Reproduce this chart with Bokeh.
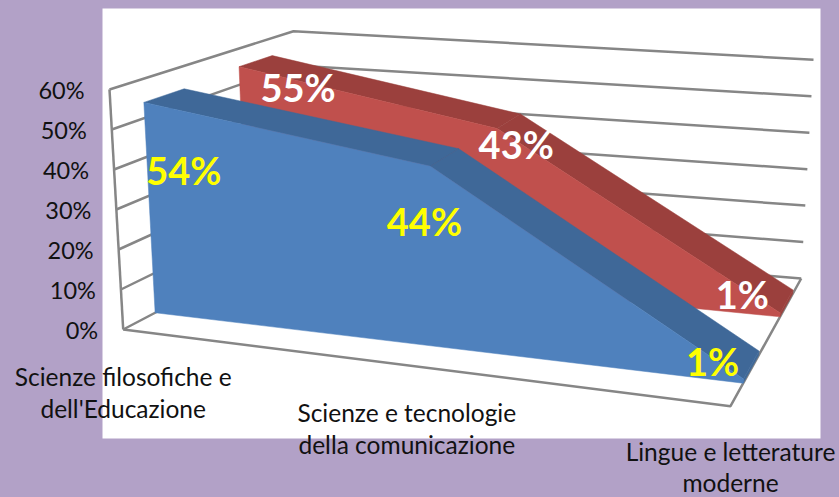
from bokeh.plotting import figure
from bokeh.models import Range1d
from bokeh.core.properties import value
from bokeh.embed import file_html
from bokeh.resources import INLINE

# ---- data ----
categories_line1 = ["Scienze filosofiche e", "Scienze e tecnologie", "Lingue e letterature"]
categories_line2 = ["dell'Educazione", "della comunicazione", "moderne"]
blue_values = [54, 44, 1]
red_values = [55, 43, 1]
blue_labels = ["54%", "44%", "1%"]
red_labels = ["55%", "43%", "1%"]
tick_values = [0, 10, 20, 30, 40, 50, 60]
tick_labels = ["0%", "10%", "20%", "30%", "40%", "50%", "60%"]

# ---- layout: page size, and the 3D box as seen on screen ----
W, H = 839, 497
BG = "#B2A1C7"
GRID = "#868686"
TEXT = "#111111"
FONT = "Lato"
VMAX = 60.0
cat_pos = [0.0, 0.467, 1.0]             # category position along the box width
blue_depth = (0.18, 0.40)               # front / back of each ribbon in the box depth
red_depth = (0.70, 0.881)
floor_corners = {"fl": (122.7, 329.0), "fr": (730.0, 405.7), "bl": (300.0, 236.0), "br": (800.7, 278.0)}
top_corners = {"fl": (109.0, 89.0), "fr": (747.0, 140.0), "bl": (293.0, 30.7), "br": (813.0, 59.3)}
# data label offsets from the front top point of the ribbon
blue_offsets = [(40, 68), (-6, 55), (-31, -18)]
red_offsets = [(59, 20), (19, 15), (-38, -19)]
# category label offsets below the floor's front edge
line1_offsets = [47, 47, 45]
line2_offsets = [79, 79, 76]


def lerp(a, b, t):
    return a + (b - a) * t


def project(c, d, v):
    """Trilinear box projection: c along width, d along depth, v in value units."""
    t = v / VMAX
    out = []
    for k in (0, 1):
        floor_f = lerp(floor_corners["fl"][k], floor_corners["fr"][k], c)
        floor_b = lerp(floor_corners["bl"][k], floor_corners["br"][k], c)
        top_f = lerp(top_corners["fl"][k], top_corners["fr"][k], c)
        top_b = lerp(top_corners["bl"][k], top_corners["br"][k], c)
        out.append(lerp(lerp(floor_f, floor_b, d), lerp(top_f, top_b, d), t))
    return tuple(out)


def poly(p, pts, color):
    p.patch([q[0] for q in pts], [q[1] for q in pts], fill_color=color, line_color=color, line_width=0.5)


def seg(p, pts):
    p.line([q[0] for q in pts], [q[1] for q in pts], line_color=GRID, line_width=2.5)


def ribbon(p, values, depth, front, top):
    df, db = depth
    n = len(values)
    for i in range(n - 1):
        poly(p, [project(cat_pos[i], df, values[i]), project(cat_pos[i + 1], df, values[i + 1]),
                 project(cat_pos[i + 1], db, values[i + 1]), project(cat_pos[i], db, values[i])], top)
    poly(p, [project(1, df, values[-1]), project(1, db, values[-1]), project(1, db, 0), project(1, df, 0)], top)
    poly(p, [project(c, df, v) for c, v in zip(cat_pos, values)] + [project(1, df, 0), project(0, df, 0)], front)


p = figure(width=W, height=H, output_backend="svg", toolbar_location=None,
           x_range=Range1d(0, W), y_range=Range1d(H, 0), min_border=0,
           background_fill_color=BG, border_fill_color=BG, outline_line_color=None)
p.axis.visible = False
p.grid.visible = False

# white chart panel
p.quad(left=[102], right=[820], top=[8], bottom=[438], fill_color="white", line_color=None)

# walls
for v in tick_values:
    seg(p, [project(0, 0, v), project(0, 1, v), project(1, 1, v)])
seg(p, [project(0, 0, 0), project(0, 0, VMAX)])
seg(p, [project(0, 0, 0), project(1, 0, 0), project(1, 1, 0)])

# series, back one first
ribbon(p, red_values, red_depth, "#C0504D", "#9B403D")
ribbon(p, blue_values, blue_depth, "#4F81BD", "#3F6898")

# value axis labels
tick_pts = [project(0, 0, v) for v in tick_values]
p.text([q[0] - 25 for q in tick_pts], [q[1] + 0.5 for q in tick_pts], text=tick_labels,
       text_font=value(FONT), text_font_size="23.5px", text_color=TEXT,
       text_align="right", text_baseline="middle")

# category labels
cat_pts = [project(c, 0, 0) for c in cat_pos]
p.text([q[0] for q in cat_pts], [q[1] + o for q, o in zip(cat_pts, line1_offsets)], text=categories_line1,
       text_font=value(FONT), text_font_size="24.5px", text_color=TEXT,
       text_align="center", text_baseline="middle")
p.text([q[0] for q in cat_pts], [q[1] + o for q, o in zip(cat_pts, line2_offsets)], text=categories_line2,
       text_font=value(FONT), text_font_size="24.5px", text_color=TEXT,
       text_align="center", text_baseline="middle")

# data labels
for vals, labs, depth, offs, col in ((red_values, red_labels, red_depth, red_offsets, "#FFFFFF"),
                                     (blue_values, blue_labels, blue_depth, blue_offsets, "#FFFF00")):
    pts = [project(c, depth[0], v) for c, v in zip(cat_pos, vals)]
    p.text([q[0] + o[0] for q, o in zip(pts, offs)], [q[1] + o[1] for q, o in zip(pts, offs)], text=labs,
           text_font=value(FONT), text_font_style="bold", text_font_size="38px", text_color=col,
           text_align="center", text_baseline="middle")

html = file_html(p, INLINE)
html = html.replace("</head>", "<style>html,body{margin:0;padding:0;background:%s;overflow:hidden}</style></head>" % BG, 1)
open("out.html", "w").write(html)
